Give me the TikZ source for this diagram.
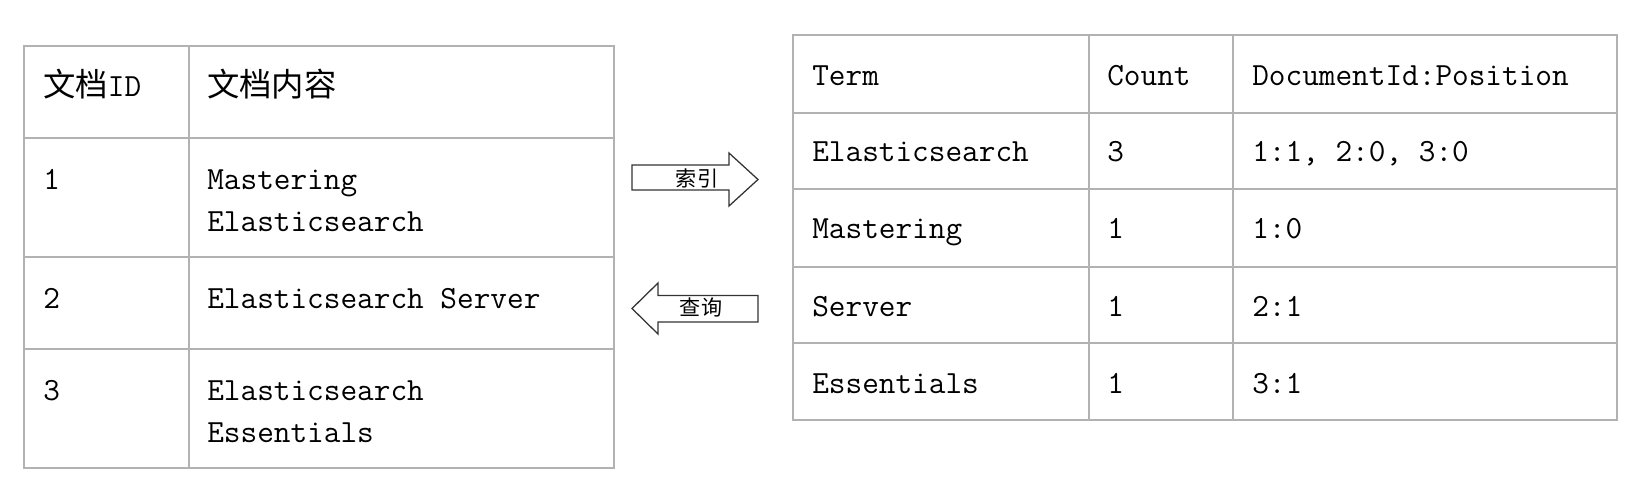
\documentclass[tikz,border=0pt]{standalone}
\usepackage{fontspec}
\newfontfamily\cjk{Noto Sans CJK SC}
\usetikzlibrary{calc}
\tikzset{
	grid/.style={draw=gray!60, line width=1.4pt},
	cell/.style={anchor=base west, inner sep=0pt, font=\fontsize{23}{29}\selectfont\ttfamily},
	blockarrow/.style={draw=black!80, line width=0.9pt, line join=miter},
	arrowlabel/.style={inner sep=0pt, font=\fontsize{15}{18}\selectfont\cjk}
}

\begin{document}
\begin{tikzpicture}[x=0.025cm, y=-0.025cm]
			\useasboundingbox (0,0) rectangle (1640,494);
			% documents table
			\draw[grid] (24,46) rectangle (614,468) (189,46) -- (189,468);
			\foreach \y in {138,257,349} \draw[grid] (24,\y) -- (614,\y);
			% inverted index table
			\draw[grid] (793,35) rectangle (1617,420);
			\foreach \x in {1089,1233} \draw[grid] (\x,35) -- (\x,420);
			\foreach \y in {113,189,267,343} \draw[grid] (793,\y) -- (1617,\y);
			% document cells
			\node[cell] (id0) at (43,96) {{\cjk 文档}ID};
			\node[cell] (doc0) at (207,96) {\cjk 文档内容};
			\foreach \n/\y/\a/\b in {1/189/Mastering/Elasticsearch, 2/308/Elasticsearch Server/, 3/400/Elasticsearch/Essentials} {
				\node[cell] (id\n) at (43,\y) {\n};
				\node[cell] (doc\n a) at (207,\y) {\a};
				\node[cell] (doc\n b) at (207,\y+42) {\b};
			}
			% index cells
			\foreach \n/\y/\t/\c/\p in {0/85/Term/Count/DocumentId:Position, 1/161/Elasticsearch/3/{1:1, 2:0, 3:0}, 2/238/Mastering/1/1:0, 3/316/Server/1/2:1, 4/393/Essentials/1/3:1} {
				\node[cell] (term\n) at (812,\y) {\t};
				\node[cell] (count\n) at (1107,\y) {\c};
				\node[cell] (pos\n) at (1252,\y) {\p};
			}
			% arrows between the tables
			\draw[blockarrow] (632,165) -- (729,165) -- (729,153) -- (758,179.5) -- (729,206) -- (729,190) -- (632,190) -- cycle;
			\node[arrowlabel] (index) at (697,178) {索引};
			\draw[blockarrow] (758,295.5) -- (658,295.5) -- (658,283) -- (632,308.5) -- (658,334) -- (658,322) -- (758,322) -- cycle;
			\node[arrowlabel] (search) at (701,307) {查询};
\end{tikzpicture}
\end{document}
